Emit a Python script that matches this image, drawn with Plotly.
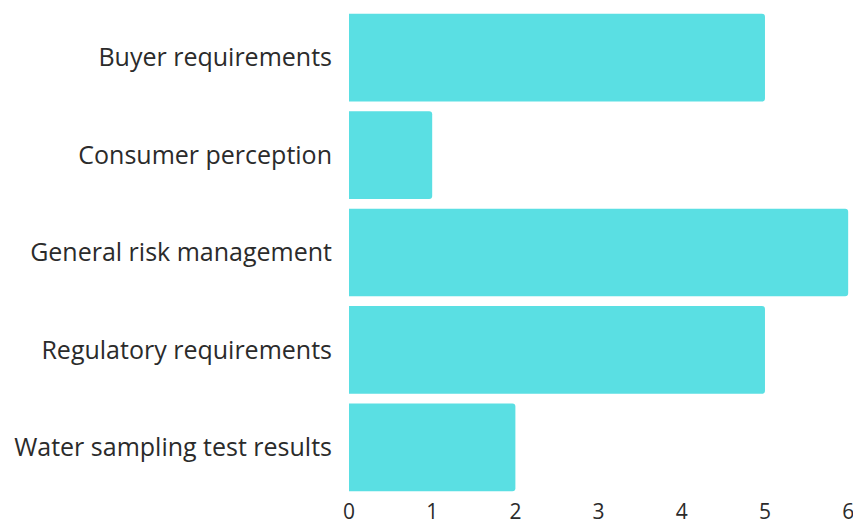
import plotly.graph_objects as go

categories = [
    "Buyer requirements",
    "Consumer perception",
    "General risk management",
    "Regulatory requirements",
    "Water sampling test results",
]
counts = [5, 1, 6, 5, 2]
x_ticks = [0, 1, 2, 3, 4, 5, 6]

fig = go.Figure(
    go.Bar(
        x=counts,
        y=categories,
        orientation="h",
        marker=dict(color="#5ADFE3", line=dict(width=0)),
        hoverinfo="x+y",
    )
)

fig.update_layout(
    width=853,
    height=526,
    margin=dict(l=349, r=4, t=9, b=30),
    paper_bgcolor="white",
    plot_bgcolor="white",
    bargap=0.1,
    barcornerradius=3,
    showlegend=False,
    font=dict(family="Open Sans", size=25, color="#2b2b2b"),
)

fig.update_yaxes(
    autorange="reversed",
    automargin=False,
    showgrid=False,
    showline=False,
    ticks="",
    ticklabelstandoff=16,
    tickfont=dict(size=25, color="#2b2b2b"),
)

fig.update_xaxes(
    range=[0, 6.01],
    automargin=False,
    tickvals=x_ticks,
    showgrid=False,
    zeroline=False,
    showline=False,
    ticks="",
    ticklabeloverflow="allow",
    ticklabelstandoff=1,
    tickfont=dict(size=21, color="#2b2b2b"),
)

fig.write_html("out.html")
